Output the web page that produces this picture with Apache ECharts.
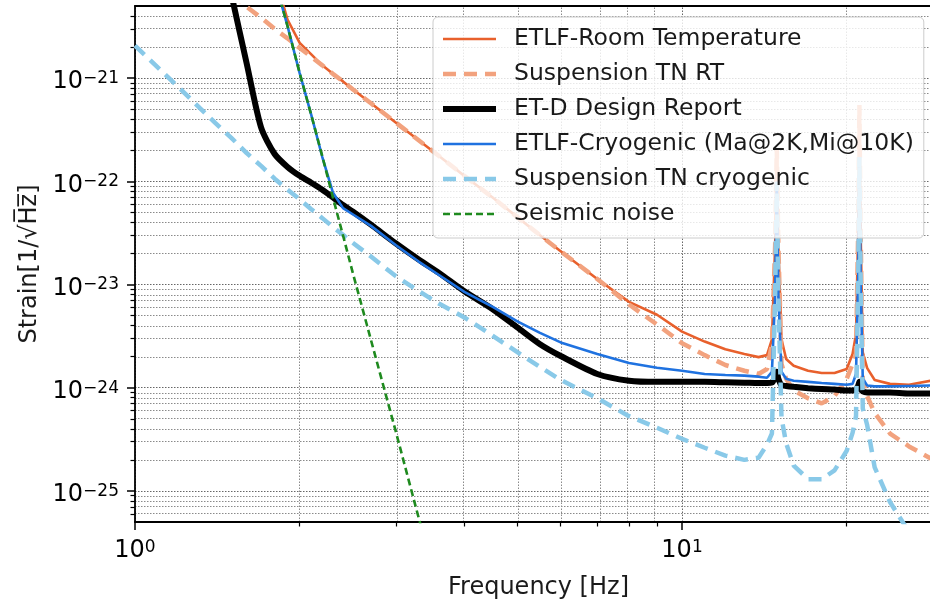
<!DOCTYPE html>
<html>
<head>
<meta charset="utf-8">
<script src="https://cdn.jsdelivr.net/npm/echarts@6/dist/echarts.min.js"></script>
<style>
  html, body { margin: 0; padding: 0; background: #fff; }
  #chart { width: 930px; height: 605px; }
</style>
</head>
<body>
<div id="chart"></div>
<script>
// frequency grid [Hz]
const freq = [1.0, 1.2, 1.4, 1.5, 1.6, 1.7, 1.8, 1.9, 2.0, 2.1, 2.2, 2.3, 2.4, 2.5, 2.7, 3.0, 3.3, 3.6, 4.0, 4.5,
  5, 5.5, 6, 7, 8, 9, 10, 11, 12, 13, 13.8, 14.3, 14.6, 14.8, 14.9, 15.0, 15.2, 15.5, 16, 17,
  18, 19, 20, 20.5, 20.8, 21.0, 21.1, 21.2, 21.4, 21.8, 22.5, 24, 26, 28.5, 30];

// strain [1/sqrt(Hz)], one value per frequency (null = not drawn)
const etlfRoom = [null, null, null, null, null, null, 1.0e-20, 3.7e-21, 2.2e-21, 1.7e-21, 1.33e-21, 1.10e-21, 9.3e-22, 7.8e-22, 5.7e-22, 3.7e-22, 2.5e-22, 1.75e-22, 1.13e-22, 7.0e-23,
  4.5e-23, 3.0e-23, 2.1e-23, 1.13e-23, 6.8e-24, 5.1e-24, 3.5e-24, 2.8e-24, 2.36e-24, 2.12e-24, 1.98e-24, 2.07e-24, 2.94e-24, 2.4e-23, 2.1e-22, 2.4e-23, 2.94e-24, 1.9e-24, 1.63e-24, 1.46e-24,
  1.39e-24, 1.39e-24, 1.52e-24, 2.12e-24, 3.3e-24, 3.7e-23, 5.5e-22, 3.7e-23, 2.2e-24, 1.55e-24, 1.19e-24, 1.09e-24, 1.07e-24, 1.17e-24, 1.25e-24];

const suspRT = [null, null, null, 6.5e-21, 4.9e-21, 3.85e-21, 3.0e-21, 2.43e-21, 1.96e-21, 1.61e-21, 1.33e-21, 1.10e-21, 9.3e-22, 7.8e-22, 5.7e-22, 3.7e-22, 2.5e-22, 1.75e-22, 1.13e-22, 7.0e-23,
  4.5e-23, 3.0e-23, 2.1e-23, 1.13e-23, 6.4e-24, 4.1e-24, 2.7e-24, 2.07e-24, 1.66e-24, 1.46e-24, 1.36e-24, 1.52e-24, 2.64e-24, 2.4e-23, 2.1e-22, 2.4e-23, 1.7e-24, 1.22e-24, 9.4e-25, 7.9e-25,
  7.05e-25, 8.3e-25, 1.22e-24, 1.7e-24, 2.12e-24, 3.7e-23, 5.5e-22, 3.7e-23, 1.22e-24, 8.3e-25, 5.7e-25, 3.6e-25, 2.7e-25, 2.06e-25, 1.8e-25];

const etdDesign = [null, null, null, 6.5e-21, 1.39e-21, 3.33e-22, 1.84e-22, 1.38e-22, 1.13e-22, 9.7e-23, 8.3e-23, 7.0e-23, 5.9e-23, 5.1e-23, 3.8e-23, 2.5e-23, 1.75e-23, 1.29e-23, 8.6e-24, 5.8e-24,
  3.84e-24, 2.64e-24, 2.03e-24, 1.36e-24, 1.17e-24, 1.14e-24, 1.14e-24, 1.14e-24, 1.13e-24, 1.12e-24, 1.11e-24, 1.11e-24, 1.12e-24, 1.28e-24, 1.43e-24, 1.22e-24, 1.06e-24, 1.04e-24, 1.02e-24, 9.9e-25,
  9.7e-25, 9.6e-25, 9.4e-25, 9.4e-25, 9.6e-25, 1.05e-24, 1.14e-24, 9.8e-25, 9.2e-25, 9.0e-25, 9.0e-25, 9.0e-25, 8.8e-25, 8.8e-25, 8.8e-25];

const etlfCryo = [null, null, null, null, null, null, 9.0e-21, 3.2e-21, 1.12e-21, 4.4e-22, 1.72e-22, 7.8e-23, 5.5e-23, 4.8e-23, 3.7e-23, 2.4e-23, 1.67e-23, 1.23e-23, 8.5e-24, 6.1e-24,
  4.4e-24, 3.4e-24, 2.75e-24, 2.12e-24, 1.74e-24, 1.56e-24, 1.46e-24, 1.36e-24, 1.33e-24, 1.31e-24, 1.28e-24, 1.25e-24, 1.43e-24, 7.9e-24, 9.9e-23, 7.9e-24, 1.43e-24, 1.22e-24, 1.17e-24, 1.14e-24,
  1.11e-24, 1.09e-24, 1.07e-24, 1.09e-24, 1.36e-24, 1.23e-23, 1.72e-22, 1.23e-23, 1.22e-24, 1.05e-24, 1.03e-24, 1.03e-24, 1.04e-24, 1.05e-24, 1.07e-24];

const suspCryo = [2.07e-21, 8.2e-22, 3.7e-22, 2.64e-22, 1.88e-22, 1.41e-22, 1.06e-22, 8.3e-23, 6.7e-23, 5.37e-23, 4.4e-23, 3.61e-23, 3.03e-23, 2.54e-23, 1.87e-23, 1.2e-23, 8.65e-24, 6.5e-24, 4.8e-24, 3.21e-24,
  2.21e-24, 1.59e-24, 1.19e-24, 7.9e-25, 5.3e-25, 4.1e-25, 3.2e-25, 2.62e-25, 2.2e-25, 2.0e-25, 2.1e-25, 2.8e-25, 3.6e-25, 7.9e-24, 9.9e-23, 7.9e-24, 5.1e-25, 2.9e-25, 1.76e-25, 1.3e-25,
  1.3e-25, 1.58e-25, 2.45e-25, 3.65e-25, 5.3e-25, 1.23e-23, 1.72e-22, 1.23e-23, 6.3e-25, 4.35e-25, 1.69e-25, 7.8e-26, 4.0e-26, 2.0e-26, null];

const seismic = [null, null, null, null, null, null, 9.1e-21, 3.2e-21, 1.12e-21, 4.4e-22, 1.75e-22, 7.0e-23, 3.0e-23, 1.31e-23, 2.9e-24, 3.7e-25, 5.5e-26, 1.06e-26, null, null,
  null, null, null, null, null, null, null, null, null, null, null, null, null, null, null, null, null, null, null, null,
  null, null, null, null, null, null, null, null, null, null, null, null, null, null, null];

// axis limits and tick positions
const xLimits = [1, 28.4];
const yLimits = [5e-26, 5e-21];
const xMajorTicks = [1, 10];
const xMinorTicks = [2, 3, 4, 5, 6, 7, 8, 9, 20];
const yMajorTicks = [1e-25, 1e-24, 1e-23, 1e-22, 1e-21];
const yMinorTicks = [];
for (let e = -26; e <= -21; e++) {
  for (let k = 2; k <= 9; k++) {
    const v = k * Math.pow(10, e);
    if (v > yLimits[0] * 1.001 && v < yLimits[1] * 0.999) yMinorTicks.push(v);
  }
}

const lg = Math.log10;
const FONT = 'DejaVu Sans';

const toPoints = (vals) => freq
  .map((f, i) => (vals[i] == null ? null : [lg(f), lg(vals[i])]))
  .filter((p) => p !== null);

const powLabel = (v) => {
  const e = Math.round(v);
  return '{b|10}{s|' + String(e).replace('-', '\u2212') + '}';
};

const labelRich = {
  b: { fontFamily: FONT, fontSize: 24, lineHeight: 24, color: '#000' },
  s: { fontFamily: FONT, fontSize: 17, lineHeight: 10, verticalAlign: 'top', color: '#000' }
};

const gridStyleMinor = { color: '#8a8a8a', width: 1, type: [1.5, 1.5] };
const gridStyleMajor = { color: '#666', width: 1, type: [1.5, 1.5] };

const gridLines = [
  ...xMinorTicks.map((v) => ({ xAxis: lg(v), lineStyle: gridStyleMinor })),
  ...xMajorTicks.map((v) => ({ xAxis: lg(v), lineStyle: gridStyleMajor })),
  ...yMinorTicks.map((v) => ({ yAxis: lg(v), lineStyle: gridStyleMinor })),
  ...yMajorTicks.map((v) => ({ yAxis: lg(v), lineStyle: gridStyleMajor }))
];

const lineSeries = (name, vals, style, smooth) => ({
  name,
  type: 'line',
  data: toPoints(vals),
  symbol: 'none',
  smooth: smooth || false,
  lineStyle: style,
  itemStyle: { color: style.color },
  clip: true
});

const chart = echarts.init(document.getElementById('chart'));

const option = {
  animation: false,
  backgroundColor: '#fff',
  grid: { left: 135, right: 0, top: 6, bottom: 75 },
  legend: {
    orient: 'vertical',
    left: 433,
    top: 17,
    itemWidth: 53,
    itemHeight: 14,
    itemGap: 11,
    padding: [10, 10, 12, 7],
    backgroundColor: 'rgba(255,255,255,0.8)',
    borderColor: '#cccccc',
    borderWidth: 1,
    borderRadius: 5,
    itemStyle: { opacity: 0 },
    lineStyle: { width: 'inherit', type: 'inherit' },
    textStyle: { fontFamily: FONT, fontSize: 23.5, lineHeight: 22, color: '#1a1a1a', padding: [0, 0, 0, 13] },
    data: ['ETLF-Room Temperature', 'Suspension TN RT', 'ET-D Design Report',
      'ETLF-Cryogenic (Ma@2K,Mi@10K)', 'Suspension TN cryogenic', 'Seismic noise']
  },
  xAxis: [
    {
      type: 'value',
      min: lg(xLimits[0]),
      max: lg(xLimits[1]),
      position: 'bottom',
      name: 'Frequency [Hz]',
      nameLocation: 'middle',
      nameGap: 54,
      nameTextStyle: { fontFamily: FONT, fontSize: 24, color: '#1a1a1a', padding: [0, 0, 0, 12] },
      axisLine: { lineStyle: { color: '#000', width: 1.8 } },
      axisTick: { customValues: xMajorTicks.map(lg), length: 8, lineStyle: { color: '#000', width: 1.5 } },
      axisLabel: { customValues: xMajorTicks.map(lg), margin: 17, formatter: powLabel, rich: labelRich },
      splitLine: { show: false }
    },
    {
      type: 'value',
      min: lg(xLimits[0]),
      max: lg(xLimits[1]),
      position: 'bottom',
      axisLine: { show: false },
      axisTick: { customValues: xMinorTicks.map(lg), length: 4.5, lineStyle: { color: '#000', width: 1.2 } },
      axisLabel: { show: false },
      splitLine: { show: false }
    },
    {
      type: 'value',
      min: lg(xLimits[0]),
      max: lg(xLimits[1]),
      position: 'top',
      axisLine: { lineStyle: { color: '#000', width: 1.8 } },
      axisTick: { show: false },
      axisLabel: { show: false },
      splitLine: { show: false }
    }
  ],
  yAxis: [
    {
      type: 'value',
      min: lg(yLimits[0]),
      max: lg(yLimits[1]),
      position: 'left',
      name: 'Strain[1/\u221AH\u0305z\u0305]',
      nameLocation: 'middle',
      nameGap: 90,
      nameTextStyle: { fontFamily: FONT, fontSize: 24, color: '#1a1a1a' },
      axisLine: { show: true, lineStyle: { color: '#000', width: 1.8 } },
      axisTick: { show: true, customValues: yMajorTicks.map(lg), length: 8, lineStyle: { color: '#000', width: 1.5 } },
      axisLabel: { customValues: yMajorTicks.map(lg), margin: 16, padding: [8, 0, 0, 0], formatter: powLabel, rich: labelRich },
      splitLine: { show: false }
    },
    {
      type: 'value',
      min: lg(yLimits[0]),
      max: lg(yLimits[1]),
      position: 'left',
      axisLine: { show: false },
      axisTick: { show: true, customValues: yMinorTicks.map(lg), length: 4.5, lineStyle: { color: '#000', width: 1.2 } },
      axisLabel: { show: false },
      splitLine: { show: false }
    }
  ],
  series: [
    {
      name: 'grid',
      type: 'line',
      data: [],
      silent: true,
      markLine: {
        silent: true,
        z: 0,
        symbol: ['none', 'none'],
        label: { show: false },
        emphasis: { disabled: true },
        data: gridLines
      }
    },
    lineSeries('ETLF-Room Temperature', etlfRoom, { color: '#e8602c', width: 2.6 }),
    lineSeries('Suspension TN RT', suspRT, { color: '#f2a27e', width: 4.5, type: [13, 8] }),
    lineSeries('ET-D Design Report', etdDesign, { color: '#000000', width: 6 }, 0.25),
    lineSeries('ETLF-Cryogenic (Ma@2K,Mi@10K)', etlfCryo, { color: '#1f72e0', width: 2.6 }),
    lineSeries('Suspension TN cryogenic', suspCryo, { color: '#89c9e8', width: 4.5, type: [13, 8] }),
    lineSeries('Seismic noise', seismic, { color: '#1e8a1e', width: 2.6, type: [7, 4] })
  ]
};

chart.setOption(option);
</script>
</body>
</html>
